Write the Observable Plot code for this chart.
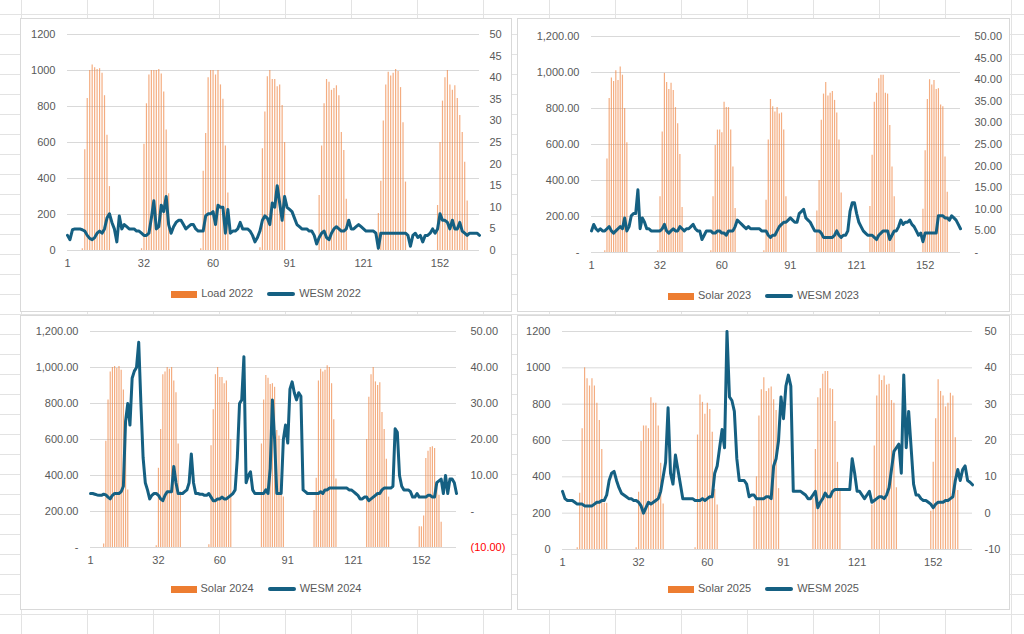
<!DOCTYPE html>
<html><head><meta charset="utf-8">
<script src="https://cdn.jsdelivr.net/npm/d3@7"></script>
<script src="https://cdn.jsdelivr.net/npm/@observablehq/plot@0.6"></script>
<style>
html,body{margin:0;padding:0;width:1024px;height:634px;overflow:hidden;font-family:"Liberation Sans",Arial,sans-serif;
background-color:#fff;
background-image:linear-gradient(to right,#e3e3e3 1px,transparent 1px),linear-gradient(to bottom,#e3e3e3 1px,transparent 1px);
background-size:66px 20px;background-position:21px 14px;}
.panel{position:absolute;background:#fff;border:1px solid #d9d9d9;box-sizing:border-box;}
.legend{position:absolute;left:0;right:0;display:flex;justify-content:center;align-items:center;gap:14px;font-size:11px;color:#595959;}
.sw{display:inline-block;margin-right:4px;vertical-align:middle}
</style></head><body>
<script>
// categories (hourly index 1..168) and tick labels
const xTickLabels = [1, 32, 60, 91, 121, 152];

// Solar/Load bars: 7 days x 13 hourly values (hour 7..19 of each day)
const load2022 = [
 [10,560,845,1000,1030,1015,1005,1010,985,860,640,355,0],
 [10,590,815,975,1000,1000,1000,1005,980,880,670,315,0],
 [10,440,650,960,1000,1000,975,1000,920,840,580,320,0],
 [15,565,770,965,1000,950,950,910,920,805,600,0,0],
 [305,580,815,950,935,890,900,915,860,655,555,285,0],
 [205,385,720,920,990,970,985,1005,995,905,710,380,0],
 [250,600,830,960,1000,920,890,915,845,750,655,490,275]];
const solar2023 = [
 [10,520,855,970,950,1010,955,1030,985,800,610,0,0],
 [10,310,670,995,945,905,940,900,805,715,545,250,0],
 [10,310,595,680,680,665,835,805,805,680,475,245,0],
 [10,290,625,850,810,780,805,770,775,680,310,0,0],
 [230,400,735,880,945,870,885,895,845,775,625,330,0],
 [255,540,835,885,965,985,985,885,880,705,475,310,0],
 [240,565,850,960,930,955,905,910,820,810,530,335,0]];
const solar2024 = [
 [20,590,820,975,1000,1005,995,1005,985,875,600,320,0],
 [10,440,655,960,975,1000,990,1000,925,860,575,310,0],
 [15,565,765,960,1000,945,945,910,925,805,600,0,0],
 [575,820,955,940,905,910,890,650,620,380,280,0,0],
 [205,385,925,990,975,985,1010,1000,910,710,380,0,0],
 [600,835,960,1000,920,900,915,750,655,490,280,0,0],
 [115,115,175,495,535,555,560,550,330,290,140,0,0]];
const solar2025 = [
 [10,310,665,1000,940,900,940,900,805,710,550,255,255],
 [10,315,595,680,680,665,835,805,805,680,475,250,0],
 [10,630,850,810,745,805,770,645,330,245,0,0,0],
 [235,400,735,880,945,870,885,895,825,765,335,0,0],
 [280,550,835,885,965,980,980,885,880,705,480,330,0],
 [245,570,845,960,930,955,905,910,820,805,340,0,0],
 [210,480,720,935,870,845,785,805,860,845,615,325,0]];

// WESM prices, 168 hourly values each
const wesm2022 = [
 3.5,2.5,4.8,5,5,5,4.8,4.5, 3.5,2.8,2.5,3,4,4.5,4,5, 7.5,8.5,6.5,5,2,8,5,6,
 5.5,5,5,5,4.5,4.5,4,3.5, 3.5,4,7.5,11.5,5,5.5,10.5,9, 12.5,6,4,5.5,6.5,7,7,6,
 5,5.5,6,6,5,4.5,4.5,4.5, 8,8.5,8.5,9,6,10.5,10,10, 4,9.5,4,4.5,4.5,5,6.5,5,
 5,5,4.5,3.5,2,3,4.5,7, 8,7.5,6,11,10,15,11,7, 12.5,10,9.5,9,7.5,6,5.5,5,
 5,5,4.5,4.5,3.5,1.5,3,4, 4.5,3,2.5,4,5,5.5,5,4.5, 4.5,5,7,5,5,5.5,6,5.5,
 5,4.5,4.5,4.5,4.5,4,0.5,4, 4,4,4,4,4,4,4,4, 4,4,3.5,1,3.5,4,3,3.5,
 2,3.5,3.5,4,5,4,5,8.5, 7,7,6.5,5,7,5,5,6.5, 4.5,4,3.5,4,4,4,4,3.5];
const wesm2023 = [
 5,6.5,5.5,5,5.5,5,5,5.5, 6,5,4.5,5,5.5,6,5.5,8, 5,6,8.5,9,9,14.5,5.5,8,
 7,5.5,5.5,5,5,5,5,5, 5.5,6.5,5,4.5,5,5.5,5,5, 6,5.5,5,5.5,5.5,6,6.5,5.5,
 5,5,3,4,5,5,5,4.5, 4.5,5,5,4.5,4.5,4,5,5, 5,6,7.5,7,6.5,6,5.5,6,
 5.5,5.5,5.5,5.5,5.5,5,5,5, 4,3.5,4,4,5,6,6.5,7, 7,7.5,8,7.5,7,7,9,9.5,
 10,8,7.5,7,6,5,5,5, 4.5,3.5,3.5,3.5,3.5,3.5,4,5, 4,3.5,4,4,5,9.5,11.5,11.5,
 9,7,6,5,4.5,4,4,4, 3.5,3,4,4.5,5,5,5,3, 4,5,5,6,7.5,6.5,7,7,
 7.5,6.5,6,5,4,4.5,2.5,4.5, 4.5,4.5,4.5,4.5,4.5,8.5,8.5,8.5, 8,8,7.5,8.5,8,7.5,6.5,5.5];
const wesm2024 = [
 5,5,4.8,4.6,4.5,4.5,4.8,4.6, 4,3.5,4.5,5,5,5,5.5,7, 25,30,24,37,39,40,47,30,
 15,8,6,3.5,4.5,5,5,4.5, 3.5,3,4.5,5.5,5.5,5.5,12.5,8, 5,5,5,5.5,6,8,16,8,
 5,5,4.8,4.8,4.5,4.5,5,4, 3,3,3.5,3.5,4,3.5,3.5,4, 4.5,5,6,15,30,31,43,8,
 10,11,6,5,5,5,5,5, 6,5,12,31,20,5,5,5, 20,24,19,34,36,33,31,33,
 32,6,5.5,5,5,5,5,5, 5,5.5,5,6,6,6.5,6.5,6.5, 6.5,6.5,6.5,6.5,6.5,6.5,6,6,
 5.5,5,4.5,3.5,3.5,4,4,3, 3.5,4,4.5,5,5,6,6.5,6.5, 6.5,6.5,7,23,22,10,7,6,
 6,6,5.5,4,4,5,4,4, 4,4,4.5,4.5,4,4,8,8.5, 9,5,10,5,9,9,8,5];
const wesm2025 = [
 6,4,3.5,3.5,3.5,3,2.5,2.5, 2.5,2,2,2,2,2.5,3,3, 3.5,3.5,5,9,11,11.5,9,7,
 5.5,5,4.5,4,4,3.5,3.5,3, 2,0,1.5,3,2.5,3,3.5,4, 6,10,14,29,11,8,16,12,
 8,4,4,4,4,4,3.5,3.5, 3.5,4,3.5,4,4.5,4.5,11,13, 18,23,18,50,32,31,28,15,
 9,9,9,8,4.5,5,5,4, 4,4,4,4.5,4.5,4,13,15, 20,32,26,35,38,35,6,6,
 6,6,5.5,5,4,4,5,6, 1.5,3,4,5.5,4.5,4.5,6,6.5, 6.5,6.5,6.5,6.5,6.5,6.5,15,11,
 6,6,5,4,5,6,3,3.5, 4,4.5,4.5,4,5,7,12,17, 18,19,11,38,18,28,18,8,
 5,5,4,3.5,3.5,3,2.5,1.5, 2.5,3,3,3,3.5,3.5,4,4.5, 9,12,9,12,13,9,8.5,7.8];

const leftTicks = [0,200,400,600,800,1000,1200];
const rightTicks050 = [0,5,10,15,20,25,30,35,40,45,50];
const rightTicksNeg = [-10,0,10,20,30,40,50];

const fmtPlain = d => String(d);
const fmtAcct = d => d === 0 ? "-" : d < 0 ? "(" + d3.format(",.2f")(-d) + ")" : d3.format(",.2f")(d);

const panels = [
 {left:20, top:18, w:492, h:294, ml:46, mr:32, mt:15, plotH:216, bars:load2022, line:wesm2022,
  barName:"Load 2022", lineName:"WESM 2022", lfmt:fmtPlain, rfmt:fmtPlain, rticks:rightTicks050, rmin:0, rmax:50, rdx:10, legendTop:268},
 {left:517, top:18, w:493, h:294, ml:73, mr:49, mt:17, plotH:216, bars:solar2023, line:wesm2023,
  barName:"Solar 2023", lineName:"WESM 2023", lfmt:fmtAcct, rfmt:fmtAcct, rticks:rightTicks050, rmin:0, rmax:50, rdx:14, legendTop:270},
 {left:20, top:315, w:492, h:295, ml:69, mr:55, mt:15, plotH:216, bars:solar2024, line:wesm2024,
  barName:"Solar 2024", lineName:"WESM 2024", lfmt:fmtAcct, rfmt:fmtAcct, rticks:rightTicksNeg, rmin:-10, rmax:50, rdx:14, legendTop:266},
 {left:517, top:315, w:493, h:295, ml:44, mr:37, mt:15, plotH:218, bars:solar2025, line:wesm2025,
  barName:"Solar 2025", lineName:"WESM 2025", lfmt:fmtPlain, rfmt:fmtPlain, rticks:rightTicksNeg, rmin:-10, rmax:50, rdx:12, legendTop:266}
];

const ORANGE = "#F08A4B", BLUE = "#156082", TXT = "#595959";

for (const p of panels) {
  const map = v => (v - p.rmin) / (p.rmax - p.rmin) * 1200;
  const barData = [];
  p.bars.forEach((day, d) => day.forEach((v, i) => barData.push({x: d * 24 + 7 + i, v})));
  const lineData = p.line.map((v, i) => ({x: i + 1, v}));
  const height = p.mt + p.plotH + 24;
  const chart = Plot.plot({
    width: p.w - 2, height,
    marginLeft: p.ml, marginRight: p.mr, marginTop: p.mt, marginBottom: 24,
    style: {fontFamily: "Liberation Sans, Arial, sans-serif", fontSize: "11px", color: TXT, background: "transparent"},
    x: {domain: [1, 168], axis: null},
    y: {domain: [0, 1200], axis: null},
    marks: [
      Plot.ruleY(leftTicks, {stroke: "#d9d9d9", strokeWidth: 1}),
      Plot.ruleX(barData, {x: "x", y1: 0, y2: "v", stroke: ORANGE, strokeWidth: 1.2, strokeOpacity: 0.7}),
      Plot.line(lineData, {x: "x", y: d => map(d.v), stroke: BLUE, strokeWidth: 3, strokeLinejoin: "round"}),
      Plot.text(leftTicks, {y: d => d, text: p.lfmt, frameAnchor: "left", textAnchor: "end", dx: -12, fill: TXT}),
      Plot.text(p.rticks, {y: d => map(d), text: p.rfmt, frameAnchor: "right", textAnchor: "start", dx: p.rdx,
        fill: d => d < 0 && p.rfmt === fmtAcct ? "#FF0000" : TXT}),
      Plot.text(xTickLabels, {x: d => d, text: d => String(d), frameAnchor: "bottom", dy: 16, fill: TXT})
    ]
  });
  const div = document.createElement("div");
  div.className = "panel";
  Object.assign(div.style, {left: p.left + "px", top: p.top + "px", width: p.w + "px", height: p.h + "px"});
  div.appendChild(chart);
  const lg = document.createElement("div");
  lg.className = "legend";
  lg.style.top = p.legendTop + "px";
  lg.innerHTML = `<span><span class="sw" style="width:26px;height:7px;background:#ED7D31"></span>${p.barName}</span>` +
    `<span><span class="sw" style="width:28px;height:4px;border-radius:2px;background:${BLUE}"></span>${p.lineName}</span>`;
  div.appendChild(lg);
  document.body.appendChild(div);
}
</script>
</body></html>
